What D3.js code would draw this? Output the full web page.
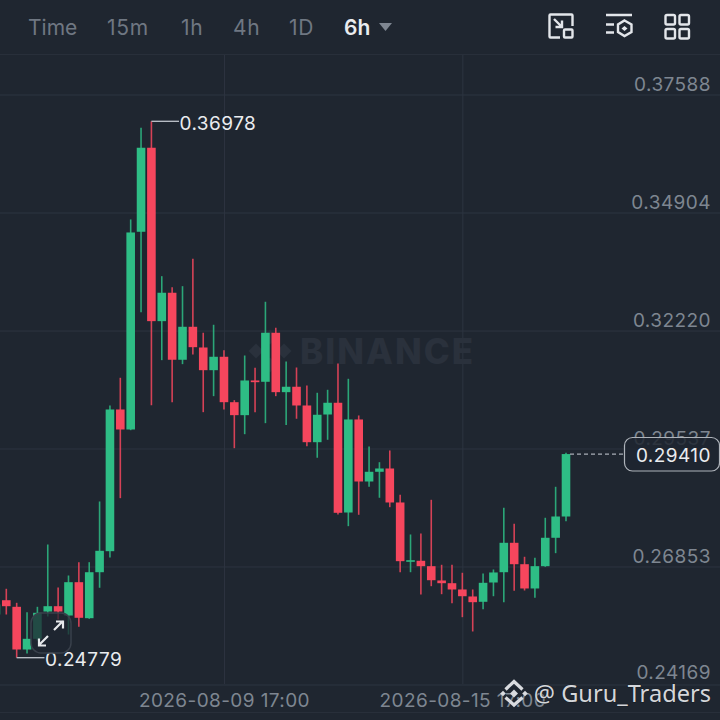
<!DOCTYPE html>
<html>
<head>
<meta charset="utf-8">
<script src="https://cdn.jsdelivr.net/npm/d3@7"></script>
<style>
html,body{margin:0;padding:0;background:#1f2630;overflow:hidden}
text{font-family:Inter,"Noto Sans",sans-serif}
</style>
</head>
<body>
<div id="chart"></div>
<script>
// candles, oldest first. first one is cut by the left edge
const opens = [.25761,.26086,.25936,.24965,.25208,.25829,.25950,.25738,.26496,.25677,.26723,.27201,.30424,.29969,.34466,.36377,.32433,.33079,.31555,.32305,.31834,.31318,.31623,.30590,.30295,.31084,.31054,.32169,.30818,.30941,.30515,.29680,.30310,.30577,.28081,.30197,.28786,.29007,.29082,.28309,.26960,.26983,.26860,.26535,.26473,.26330,.26171,.26050,.26489,.26723,.27392,.26905,.26353,.26860,.27506,.27990]
const closes = [.25989,.25950,.24965,.25208,.25800,.25950,.25829,.26496,.25686,.26723,.27210,.30424,.29969,.34450,.36377,.32433,.33079,.31555,.32305,.31841,.31318,.31623,.30590,.30295,.31084,.31045,.32169,.30818,.30941,.30515,.29680,.30304,.30577,.28074,.30197,.28786,.29007,.29082,.28309,.26974,.26996,.26860,.26541,.26473,.26330,.26177,.26041,.26482,.26717,.27392,.26905,.26353,.26860,.27506,.27990,.29410]
const highs = [.26034,.26346,.26027,.25814,.25936,.27353,.26375,.26648,.26951,.26951,.28332,.30515,.31145,.34746,.36832,.36978,.33456,.33206,.33229,.33852,.32169,.32351,.31773,.30636,.31652,.31373,.32874,.32283,.31516,.31379,.30970,.30804,.30872,.31470,.31122,.30288,.29583,.29225,.29492,.28484,.27581,.27604,.28370,.26892,.26892,.26710,.26330,.26694,.26785,.28188,.27824,.27074,.27051,.27961,.28666,.29439]
const lows = [.25693,.25761,.24779,.24874,.25170,.25716,.25647,.25306,.25481,.25663,.26369,.27058,.28407,.29953,.32637,.30522,.31546,.30590,.31455,.31675,.30363,.30727,.30424,.29544,.29862,.30363,.30113,.30727,.30072,.30213,.29589,.29326,.29735,.28036,.27770,.28029,.28666,.28416,.28202,.26723,.26723,.26216,.26405,.26223,.26018,.25700,.25375,.25882,.26177,.26041,.26300,.26307,.26141,.26846,.27156,.27883]

const priceTicks = [0.37588,0.34904,0.32220,0.29537,0.26853,0.24169]
const dateTicks = [22,45]
const dateLabels = ["2026-08-09 17:00","2026-08-15 17:00"]
const tabs = ["Time","15m","1h","4h","1D","6h"]
const tabX = [28,107,181,233,289,344]

const maxPrice = 0.36978, minPrice = 0.24779, lastPrice = 0.29410

const width = 720, height = 720
const bg = "#1f2630", grid = "#2d3440", muted = "#7e8691"
const green = "#2ebd85", red = "#f6465d"

const svg = d3.select("#chart").append("svg")
    .attr("width",width).attr("height",height)
    .style("display","block")

svg.append("rect").attr("width",width).attr("height",height).attr("fill",bg)

// same px mapping as the screenshot: ticks 118px apart
const x = d3.scaleLinear().domain([0,opens.length-1]).range([-4.06,566])
const y = d3.scaleLinear().domain([0.24169,0.37588]).range([684.5,94.5])

// header
svg.append("line").attr("x1",0).attr("x2",width).attr("y1",54.5).attr("y2",54.5).attr("stroke","#282f3a")
svg.append("line").attr("x1",0).attr("x2",width).attr("y1",712.5).attr("y2",712.5).attr("stroke","#282f3a")

svg.selectAll(".tab").data(tabs).enter().append("text")
    .attr("class","tab")
    .attr("x",(d,i)=>tabX[i])
    .attr("y",34.5)
    .attr("font-size",21)
    .attr("letter-spacing",d=>d==="6h"||d==="Time"?0:.7)
    .attr("font-weight",d=>d==="6h"?600:400)
    .attr("fill",d=>d==="6h"?"#eaecef":"#6f7782")
    .text(d=>d)
svg.append("path").attr("d","M379 23H392L385.5 31Z").attr("fill","#7e8691")

// toolbar icons
const icons = svg.append("g").attr("fill","none").attr("stroke","#e3e6ea").attr("stroke-width",2.4)
icons.append("path").attr("d","M560 37.5H550.5Q549.5 37.5 549.5 36.5V15.5Q549.5 14.5 550.5 14.5H571.5Q572.5 14.5 572.5 15.5V26")
icons.append("path").attr("d","M554 19L562 27M562 20.5V27H555.5")
icons.append("rect").attr("x",564).attr("y",29.5).attr("width",8.5).attr("height",8).attr("rx",1)
icons.append("path").attr("d","M606 15H632M606 24.5H614M606 32.5H614")
icons.append("path").attr("d","M624.5 20.5L631.5 24.5V32L624.5 36L618 32V24.5Z")
icons.append("path").attr("d","M624.5 26L627.5 28.5L624.5 31L621.5 28.5Z").attr("fill","#e3e6ea").attr("stroke","none")
;[[665.5,15],[679.5,15],[665.5,29],[679.5,29]].forEach(p=>{
    icons.append("rect").attr("x",p[0]).attr("y",p[1]).attr("width",9.5).attr("height",9.5).attr("rx",1.5)
})

// grid through the axes
const yGrid = d3.axisRight(y).tickValues(priceTicks).tickSize(width).tickFormat("")
svg.append("g").call(yGrid).call(g=>{
    g.select(".domain").remove()
    g.selectAll("line").attr("stroke",grid)
})
const xGrid = d3.axisBottom(x).tickValues(dateTicks).tickSize(629).tickFormat("")
svg.append("g").attr("transform","translate(0,55)").call(xGrid).call(g=>{
    g.select(".domain").remove()
    g.selectAll("line").attr("stroke",grid)
})

// watermark
const wm = svg.append("g").attr("fill","#2a313c")
wm.append("text").attr("x",300).attr("y",364).attr("font-size",35).attr("font-weight",800)
    .attr("letter-spacing",2).text("BINANCE")
;[[256,351],[270,337],[270,365],[284,351]].forEach(p=>{
    wm.append("path").attr("d",`M${p[0]} ${p[1]-7.5}L${p[0]+7.5} ${p[1]}L${p[0]} ${p[1]+7.5}L${p[0]-7.5} ${p[1]}Z`)
})

// candles
const candle = svg.selectAll(".candle").data(opens).enter().append("g").attr("class","candle")
candle.append("line")
    .attr("x1",(d,i)=>x(i)).attr("x2",(d,i)=>x(i))
    .attr("y1",(d,i)=>y(highs[i])).attr("y2",(d,i)=>y(lows[i]))
    .attr("stroke-width",1.6)
    .attr("stroke",(d,i)=>closes[i]>=opens[i]?green:red)
    .attr("stroke-opacity",.85)
candle.append("rect")
    .attr("x",(d,i)=>x(i)-4.3).attr("width",8.6)
    .attr("y",(d,i)=>y(Math.max(opens[i],closes[i])))
    .attr("height",(d,i)=>Math.max(1.6,Math.abs(y(opens[i])-y(closes[i]))))
    .attr("fill",(d,i)=>closes[i]>=opens[i]?green:red)

// price axis labels
const yAxis = d3.axisLeft(y).tickValues(priceTicks).tickSize(0).tickPadding(0).tickFormat(d3.format(".5f"))
svg.append("g").attr("transform","translate(711,-10)").call(yAxis).call(g=>{
    g.select(".domain").remove()
    g.selectAll("text").attr("fill",muted).attr("font-size",19).attr("letter-spacing",.45)
        .attr("font-family",'Inter,"Noto Sans",sans-serif')
    // lowest label sits a bit higher in the app
    g.selectAll("text").filter(d=>d===priceTicks[5]).attr("y",-2.5)
})

// date labels
const xAxis = d3.axisBottom(x).tickValues(dateTicks).tickSize(0).tickPadding(0).tickFormat((d,i)=>dateLabels[i])
svg.append("g").attr("transform","translate(0,693)").call(xAxis).call(g=>{
    g.select(".domain").remove()
    g.selectAll("text").attr("fill",muted).attr("font-size",19).attr("letter-spacing",.4)
        .attr("font-family",'Inter,"Noto Sans",sans-serif')
})

// high / low markers
function extremeLabel(i,price,lineEnd){
    svg.append("path")
        .attr("d",`M${x(i)} ${y(price)}H${lineEnd}`)
        .attr("stroke","#b7bcc4").attr("stroke-width",1.4).attr("fill","none")
    svg.append("text").attr("x",lineEnd+.5).attr("y",y(price)+1.8).attr("dy","0.35em")
        .attr("font-size",19).attr("letter-spacing",.45).attr("fill","#eaecef").text(d3.format(".5f")(price))
}
extremeLabel(highs.indexOf(maxPrice),maxPrice,179)
extremeLabel(lows.indexOf(minPrice),minPrice,44.5)

// last price
svg.append("line").attr("x1",x(opens.length-1)+4).attr("x2",624)
    .attr("y1",y(lastPrice)).attr("y2",y(lastPrice))
    .attr("stroke","#a9aeb6").attr("stroke-width",1.3).attr("stroke-dasharray","4 3")
svg.append("rect").attr("x",624.5).attr("y",437.5).attr("width",95).attr("height",33.5).attr("rx",8)
    .attr("fill",bg).attr("fill-opacity",.85).attr("stroke","#aeb3ba").attr("stroke-width",1.2)
svg.append("text").attr("x",711).attr("y",y(lastPrice)+1).attr("dy","0.35em").attr("text-anchor","end")
    .attr("font-size",19).attr("letter-spacing",.45).attr("fill","#eaecef").text(d3.format(".5f")(lastPrice))

// expand button over the chart
svg.append("rect").attr("x",31).attr("y",613).attr("width",40).attr("height",40).attr("rx",10)
    .attr("fill","#1f2630").attr("fill-opacity",.75).attr("stroke","#39404b").attr("stroke-width",1.5)
svg.append("path")
    .attr("d","M39 645L48 636M39 638.5V645.5H46M54 630L63 621M56 621.5H63V628.5")
    .attr("fill","none").attr("stroke","#e6e8eb").attr("stroke-width",2.2)

// footer tag
const tag = svg.append("g").attr("fill","#d9dbdf")
tag.append("path").attr("d","M505.5 689.5L514 681.5L522.5 689.5M505.5 697.5L514 705L522.5 697.5")
    .attr("fill","none").attr("stroke","#d9dbdf").attr("stroke-width",3.2)
;[[503,693.5,2.8],[525,693.5,2.8],[514,693.5,4]].forEach(p=>{
    tag.append("path").attr("d",`M${p[0]} ${p[1]-p[2]}L${p[0]+p[2]} ${p[1]}L${p[0]} ${p[1]+p[2]}L${p[0]-p[2]} ${p[1]}Z`)
})
svg.append("text").attr("x",711).attr("y",702).attr("text-anchor","end")
    .attr("font-size",23.6).attr("fill","#d4d6da")
    .style("font-family",'"Noto Sans",sans-serif')
    .style("paint-order","stroke").attr("stroke","#14181f").attr("stroke-width",1.2).attr("stroke-opacity",.6)
    .text("@ Guru_Traders")
</script>
</body>
</html>
